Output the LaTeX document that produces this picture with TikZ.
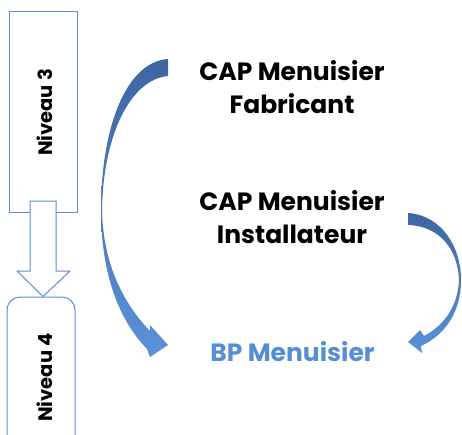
\documentclass[tikz,border=0pt]{standalone}
\usepackage{fontspec}
\setmainfont{Poppins}
\definecolor{lineblue}{HTML}{5B8ED6}
\definecolor{textblue}{HTML}{558ED5}
\definecolor{darkarrow}{HTML}{3E66A2}
\definecolor{lightarrow}{HTML}{5A91DA}
\begin{document}
\begin{tikzpicture}[x=1pt,y=-1pt,
  lvlbox/.style={draw=lineblue, line width=1pt, fill=white, inner sep=0pt},
  lvltxt/.style={rotate=90, font=\bfseries\fontsize{19.5}{23}\selectfont, inner sep=0pt, anchor=base},
  captxt/.style={font=\bfseries\fontsize{25}{33}\selectfont, align=center, inner sep=0pt},
  blockarrow/.style={draw=lineblue, line width=1pt, fill=white, line join=miter},
  curvearrow/.style={top color=darkarrow, bottom color=lightarrow}]
\useasboundingbox (0,0) rectangle (462,434);
% level boxes
\node[lvlbox, minimum width=68pt, minimum height=201pt] (n3) at (43,111.5) {};
\node[lvlbox, rounded corners=13pt, minimum width=68pt, minimum height=170pt] (n4) at (41,382) {};
% block arrow from level 3 to level 4
\path[blockarrow] (30,201) -- (56,201) -- (56,271) -- (70,271) -- (n4.north -| 43,0) -- (17,271) -- (30,271) -- cycle;
\node[lvltxt] (t3) at (52.5,112.5) {Niveau 3};
\node[lvltxt] (t4) at (52.5,377.5) {Niveau 4};
% texts
\node[captxt] (fab) at (292,87) {CAP Menuisier\\Fabricant};
\node[captxt] (ins) at (292,217) {CAP Menuisier\\Installateur};
\node[captxt, text=textblue, anchor=base] (bp) at (292.5,361) {BP Menuisier};
% curved arrows
\shade[curvearrow] (168,59) .. controls (125,62) and (101,130) .. (101,210)
  .. controls (101,270) and (117,318) .. (147,349) -- (150,357) -- (168,345) -- (150,325) -- (150,331)
  .. controls (122,302) and (103,262) .. (102,210)
  .. controls (103,140) and (128,80) .. (168,76) -- cycle;
\shade[curvearrow] (408,213) .. controls (440,215) and (461,245) .. (461,280)
  .. controls (461,310) and (447,334) .. (421,346) -- (422,353) -- (408,342) -- (420,330) -- (424,336)
  .. controls (445,325) and (458,305) .. (459,280)
  .. controls (458,250) and (440,226) .. (408,225) -- cycle;
\end{tikzpicture}
\end{document}
